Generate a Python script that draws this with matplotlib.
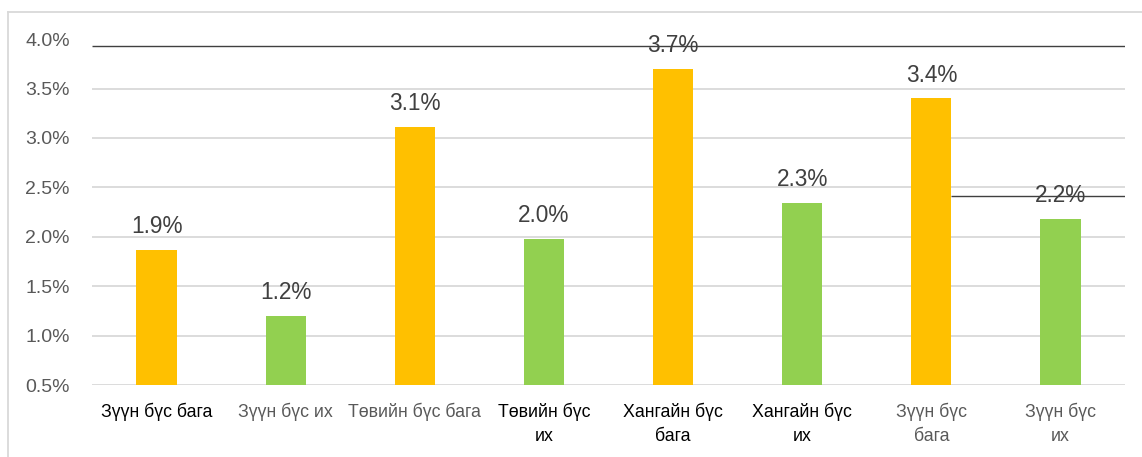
import matplotlib
matplotlib.use("Agg")
import matplotlib.pyplot as plt
from matplotlib.lines import Line2D

categories = ["Зүүн бүс бага", "Зүүн бүс их", "Төвийн бүс бага", "Төвийн бүс\nих",
              "Хангайн бүс\nбага", "Хангайн бүс\nих", "Зүүн бүс\nбага", "Зүүн бүс\nих"]
values = [1.87, 1.20, 3.11, 1.98, 3.70, 2.34, 3.40, 2.18]
value_labels = ["1.9%", "1.2%", "3.1%", "2.0%", "3.7%", "2.3%", "3.4%", "2.2%"]
bar_colors = ["#FFC000", "#92D050", "#FFC000", "#92D050", "#FFC000", "#92D050", "#FFC000", "#92D050"]
label_colors = ["#000000", "#595959", "#595959", "#000000", "#000000", "#000000", "#595959", "#595959"]
yticks = [0.5, 1.0, 1.5, 2.0, 2.5, 3.0, 3.5, 4.0]
ytick_labels = ["0.5%", "1.0%", "1.5%", "2.0%", "2.5%", "3.0%", "3.5%", "4.0%"]
extra_line_top = 3.93
extra_line_mid = 2.41

plt.rcParams['font.family'] = ['Liberation Sans', 'DejaVu Sans']

W, H = 1142, 457
fig = plt.figure(figsize=(W / 100, H / 100), dpi=100)
ax = fig.add_axes([92 / W, 1 - 385 / H, (1125 - 92) / W, (385 - 39.2) / H])

x = list(range(len(categories)))
bw = 0.312
ax.bar(x, values, width=bw, color=bar_colors, zorder=3)

ax.set_xlim(-0.5, len(categories) - 0.5)
ax.set_ylim(0.5, 4.0)

# gridlines (all but the top one)
for yv in yticks[:-1]:
    ax.axhline(yv, color="#D9D9D9", lw=1.3, zorder=1)

# extra dark lines
ax.hlines(extra_line_top, -0.5, len(categories) - 0.5, color="#404040", lw=1.0, zorder=4)
ax.hlines(extra_line_mid, 6 + bw / 2, len(categories) - 0.5, color="#404040", lw=1.0, zorder=4)

for xi, v, lab in zip(x, values, value_labels):
    ax.annotate(lab, (xi, v), xytext=(0, 12.2), textcoords="offset points",
                ha="center", va="baseline", fontsize=16.3, color="#404040", zorder=5)

ax.set_yticks(yticks)
ax.set_yticklabels(ytick_labels, fontsize=14, color="#595959")
ax.set_xticks(x)
ax.set_xticklabels(categories, fontsize=12.8)
for t, c in zip(ax.get_xticklabels(), label_colors):
    t.set_color(c)
    t.set_linespacing(1.5)
ax.tick_params(axis="y", length=0, pad=16)
ax.tick_params(axis="x", length=0, pad=13)

for s in ax.spines.values():
    s.set_visible(False)

# outer chart border (top and left visible)
fig.add_artist(Line2D([8 / W, 8 / W], [0, 1 - 11.5 / H], transform=fig.transFigure, color="#D9D9D9", lw=1.3))
fig.add_artist(Line2D([8 / W, 1], [1 - 11.5 / H, 1 - 11.5 / H], transform=fig.transFigure, color="#D9D9D9", lw=1.3))

fig.savefig("out.png", dpi=100)
